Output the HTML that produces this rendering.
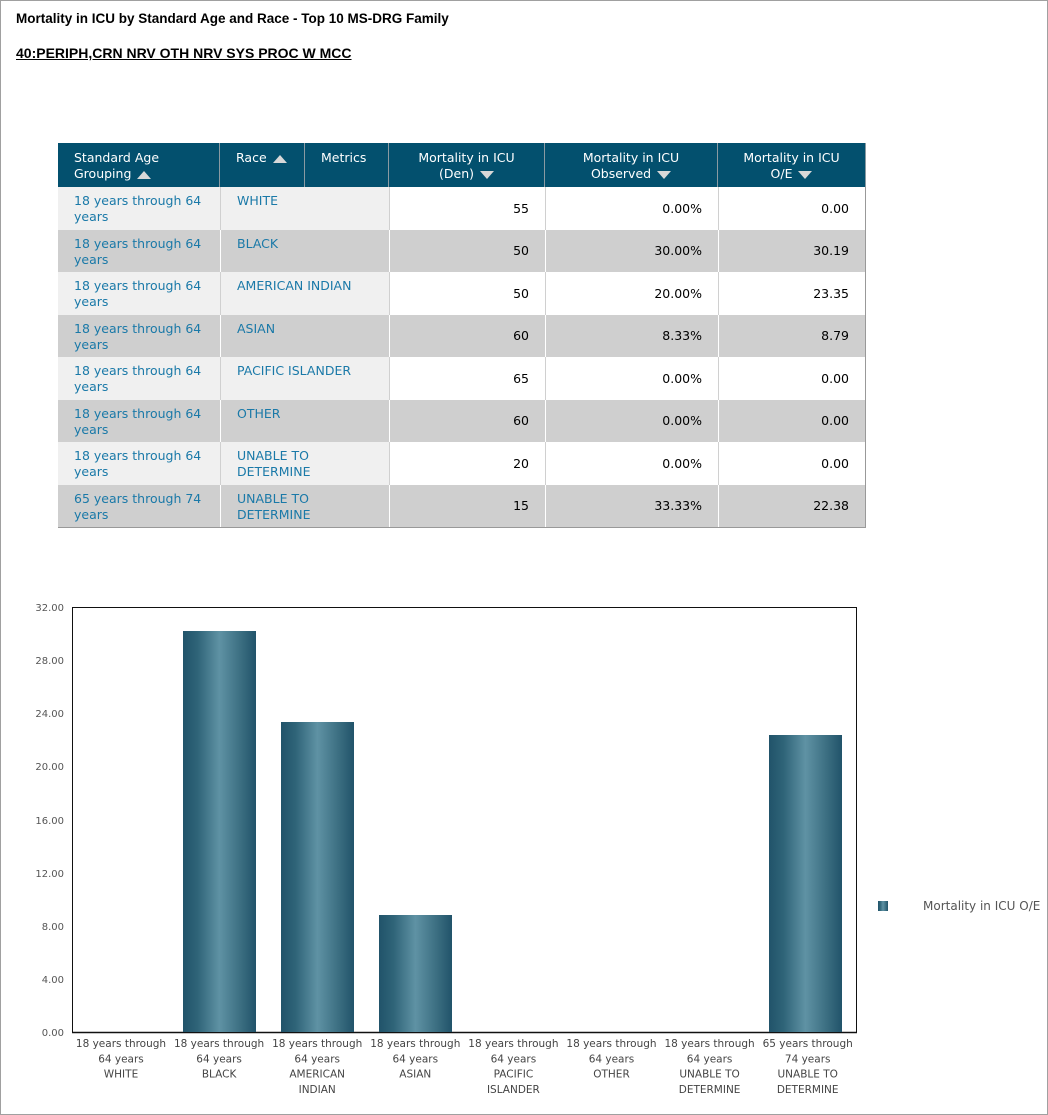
<!DOCTYPE html>
<html><head><meta charset="utf-8"><style>
body{margin:0;width:1048px;height:1115px;background:#fff;position:relative;overflow:hidden;font-family:"DejaVu Sans",Verdana,sans-serif}
.frame{position:absolute;left:0;top:0;width:1046px;height:1113px;border:1px solid #a0a0a0}
.t1{position:absolute;left:16px;top:11px;font:bold 13.5px "Liberation Sans",Arial,sans-serif;color:#000}
.t2{position:absolute;left:16px;top:45px;font:bold 14px "Liberation Sans",Arial,sans-serif;text-decoration:underline;color:#000}
.c{position:absolute;box-sizing:border-box;font-size:12.5px;line-height:16px}
.h{background:#03506e;color:#fff;border-right:1px solid #8a9aa2;padding-top:7px}
.l{color:#1a79a8;padding:6px 0 0 16px}
.n{color:#000;text-align:right;padding-right:16px}
.tri{display:inline-block;width:0;height:0;border-left:7px solid transparent;border-right:7px solid transparent;vertical-align:middle}
.up{border-bottom:8px solid #d8d8d8;margin-left:2px}
.dn{border-top:8px solid #d8d8d8;margin-left:2px}
</style></head><body>
<div class="frame"></div>
<div class="t1">Mortality in ICU by Standard Age and Race - Top 10 MS-DRG Family</div>
<div class="t2">40:PERIPH,CRN NRV OTH NRV SYS PROC W MCC</div>
<div id="tbl"></div>
<script>
var cols=[58,220,305,389,545,718,866];
var hd=['Standard Age<br>Grouping <span class="tri up"></span>','Race <span class="tri up"></span>','Metrics','Mortality in ICU<br>(Den) <span class="tri dn"></span>','Mortality in ICU<br>Observed <span class="tri dn"></span>','Mortality in ICU<br>O/E <span class="tri dn"></span>'];
var h='';
for(var i=0;i<6;i++){var al=i<3?'left;padding-left:16px':'center';
h+='<div class="c h" style="left:'+cols[i]+'px;top:143px;width:'+(cols[i+1]-cols[i])+'px;height:44px;text-align:'+al+'">'+hd[i]+'</div>';}
var rows=[['18 years through 64<br>years','WHITE','55','0.00%','0.00'],['18 years through 64<br>years','BLACK','50','30.00%','30.19'],['18 years through 64<br>years','AMERICAN INDIAN','50','20.00%','23.35'],['18 years through 64<br>years','ASIAN','60','8.33%','8.79'],['18 years through 64<br>years','PACIFIC ISLANDER','65','0.00%','0.00'],['18 years through 64<br>years','OTHER','60','0.00%','0.00'],['18 years through 64<br>years','UNABLE TO<br>DETERMINE','20','0.00%','0.00'],['65 years through 74<br>years','UNABLE TO<br>DETERMINE','15','33.33%','22.38']];
var tops=[187,230,272,315,357,400,442,485,527];
for(var r=0;r<8;r++){var t=tops[r],ht=tops[r+1]-t,g=r%2==1;
var lb=g?'#cfcfcf':'#f0f0f0',nb=g?'#cfcfcf':'#fff',bc=g?'#fff':'#d0d0d0';
h+='<div class="c l" style="left:58px;top:'+t+'px;width:162px;height:'+ht+'px;background:'+lb+'">'+rows[r][0]+'</div>';
h+='<div class="c l" style="left:220px;top:'+t+'px;width:169px;height:'+ht+'px;background:'+lb+';border-left:1px solid '+bc+'">'+rows[r][1]+'</div>';
for(var i=3;i<6;i++){var w=cols[i+1]-cols[i];
var bl='border-left:1px solid '+bc+';'+(i==5?'border-right:1px solid #999;':'');
h+='<div class="c n" style="left:'+cols[i]+'px;top:'+t+'px;width:'+w+'px;height:'+ht+'px;line-height:'+ht+'px;background:'+nb+';'+bl+'">'+rows[r][i-1]+'</div>';}}
h+='<div style="position:absolute;left:58px;top:527px;width:808px;height:1px;background:#999"></div>';
document.getElementById('tbl').innerHTML=h;
</script>
<svg style="position:absolute;left:0;top:0" width="1048" height="1115" font-family="DejaVu Sans,Verdana,sans-serif">
<defs><linearGradient id="g" x1="0" x2="1" y1="0" y2="0">
<stop offset="0" stop-color="#21536a"/><stop offset="0.2" stop-color="#2f6478"/><stop offset="0.5" stop-color="#5f92a4"/><stop offset="0.8" stop-color="#3a6d80"/><stop offset="1" stop-color="#21536a"/></linearGradient></defs>
<g font-size="10" fill="#555" text-anchor="end">
<text x="64" y="611">32.00</text><text x="64" y="664">28.00</text><text x="64" y="717">24.00</text><text x="64" y="770">20.00</text><text x="64" y="824">16.00</text><text x="64" y="877">12.00</text><text x="64" y="930">8.00</text><text x="64" y="983">4.00</text><text x="64" y="1036">0.00</text>
</g>
<rect x="72.5" y="607.5" width="784" height="425" fill="none" stroke="#111" stroke-width="1"/>
<line x1="72" y1="1032.5" x2="857" y2="1032.5" stroke="#111" stroke-width="1.5"/>
<rect x="183" y="631" width="73" height="401" fill="url(#g)"/>
<rect x="281" y="722" width="73" height="310" fill="url(#g)"/>
<rect x="379" y="915" width="73" height="117" fill="url(#g)"/>
<rect x="769" y="735" width="73" height="297" fill="url(#g)"/>
<g font-size="10.5" fill="#444" text-anchor="middle" id="xl"></g>
<rect x="878" y="901" width="10" height="10" fill="url(#g)"/>
<text x="923" y="910" font-size="12" fill="#555">Mortality in ICU O/E</text>
</svg>
<script>
var labs=[['18 years through','64 years','WHITE'],['18 years through','64 years','BLACK'],['18 years through','64 years','AMERICAN','INDIAN'],['18 years through','64 years','ASIAN'],['18 years through','64 years','PACIFIC','ISLANDER'],['18 years through','64 years','OTHER'],['18 years through','64 years','UNABLE TO','DETERMINE'],['65 years through','74 years','UNABLE TO','DETERMINE']];
var s='';
for(var i=0;i<8;i++){var cx=121+98.1*i;for(var j=0;j<labs[i].length;j++)s+='<text x="'+cx+'" y="'+(1047+j*15.3)+'">'+labs[i][j]+'</text>';}
document.getElementById('xl').innerHTML=s;
</script>
</body></html>
